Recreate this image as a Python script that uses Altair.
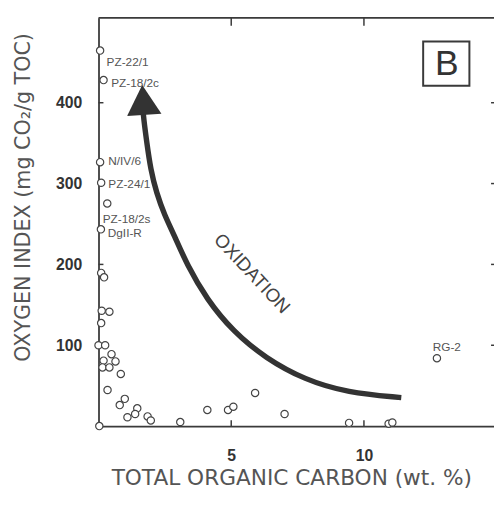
import altair as alt
import pandas as pd

# ---------------- data ----------------
toc = [0.06, 0.19, 0.06, 0.10, 0.33, 0.09, 0.10, 0.21, 0.12, 0.41,
       0.10, 0.00, 0.25, 0.49, 0.19, 0.64, 0.15, 0.41, 0.84, 0.34,
       0.99, 0.80, 1.46, 1.38, 1.09, 1.85, 1.97, 0.03, 3.08, 4.10,
       4.88, 5.08, 5.90, 7.01, 9.44, 10.93, 11.07, 12.75]
oxygen_index = [464.5, 428, 326.5, 301, 275.4, 243.4, 189.5, 184, 142.7, 141.5,
                127.4, 100, 100, 89, 81, 80, 72.6, 72.6, 64.5, 44.7,
                33.7, 26, 22, 15, 11, 12, 7, 0, 5, 20,
                20, 24, 41, 15, 4, 3, 4.5, 84]
sample = ["PZ-22/1", "PZ-18/2c", "N/IV/6", "PZ-24/1", "PZ-18/2s", "DgII-R"] + [""] * 31 + ["RG-2"]

# oxidation arrow path (data units)
arrow_toc = [1.667, 1.704, 1.815, 1.963, 2.185, 2.481, 2.852, 3.333, 4.074,
             5.074, 6.296, 7.778, 9.370, 11.407]
arrow_oi = [394.3, 379.7, 351.7, 317.6, 288.4, 261.6, 236.1, 199.6, 157.0,
            116.8, 84.0, 57.2, 41.4, 35.3]
arrow_head_toc = [1.685]
arrow_head_oi = [403.4]

x_ticks = [5, 10]
y_ticks = [100, 200, 300, 400]

# ---------------- styling ----------------
W, H = 402, 415
XD = [0, 14.9]
YD = [0, 505]
INK = "#3a3a3a"
TEXT = "#555555"

# label offsets (pixels) relative to their point: (dx, dy)
LABEL_OFFSETS = {
    "PZ-22/1": (6.6, 11.7),
    "PZ-18/2c": (7.7, 2.7),
    "N/IV/6": (8.3, -1.4),
    "PZ-24/1": (7.3, 1.6),
    "PZ-18/2s": (-4.7, 16.3),
    "DgII-R": (7.0, 4.3),
    "RG-2": (-4.3, -11.0),
}

xscale = alt.Scale(domain=XD, nice=False, zero=False)
yscale = alt.Scale(domain=YD, nice=False, zero=False)

x_axis = alt.Axis(
    values=x_ticks, format="d", grid=False, ticks=False, tickSize=0,
    domain=True, domainColor=INK, domainWidth=1.8,
    labelFont="Liberation Sans", labelFontWeight="bold", labelFontSize=16,
    labelColor="#333333", labelPadding=22,
    title="TOTAL ORGANIC CARBON (wt. %)", titleFont="DejaVu Sans",
    titleFontSize=22, titleFontWeight="normal", titleColor=TEXT,
    titleX=196, titleY=59, titleAlign="center", titleBaseline="alphabetic",
    titleAngle=0,
)
y_axis = alt.Axis(
    values=y_ticks, format="d", grid=False, ticks=False, tickSize=0,
    domain=True, domainColor=INK, domainWidth=1.8,
    labelFont="Liberation Sans", labelFontWeight="bold", labelFontSize=16,
    labelColor="#333333", labelPadding=17,
    title="OXYGEN INDEX (mg CO₂/g TOC)", titleFont="DejaVu Sans",
    titleFontSize=21, titleFontWeight="normal", titleColor=TEXT,
    titleX=-70, titleY=182, titleAlign="center", titleBaseline="alphabetic",
    titleAngle=270,
)


def X(field):
    return alt.X(field, type="quantitative", scale=xscale, axis=x_axis)


def Y(field):
    return alt.Y(field, type="quantitative", scale=yscale, axis=y_axis)


pts = pd.DataFrame({"toc": toc, "oi": oxygen_index, "name": sample})
arrow_df = pd.DataFrame({"toc": arrow_toc, "oi": arrow_oi, "i": list(range(len(arrow_toc)))})
head_df = pd.DataFrame({"toc": arrow_head_toc, "oi": arrow_head_oi})
dummy = pd.DataFrame({"k": [0]})
xt_df = pd.DataFrame({"toc": x_ticks})
yt_df = pd.DataFrame({"oi": y_ticks})

# arrow shaft
shaft = alt.Chart(arrow_df).mark_line(
    color="#333333", strokeWidth=5.5, strokeCap="butt", interpolate="basis", clip=False
).encode(x=X("toc"), y=Y("oi"), order="i:Q")

head = alt.Chart(head_df).mark_point(
    shape="triangle-up", filled=True, size=1225, angle=356, color="#333333", opacity=1
).encode(x=X("toc"), y=Y("oi"))

points = alt.Chart(pts).mark_point(
    shape="circle", filled=True, fill="white", stroke="#444444",
    strokeWidth=1.2, size=55, opacity=1, clip=False
).encode(x=X("toc"), y=Y("oi"))

label_layers = []
for nm, (dx, dy) in LABEL_OFFSETS.items():
    label_layers.append(
        alt.Chart(pts).transform_filter(alt.datum.name == nm).mark_text(
            align="left", baseline="middle", dx=dx, dy=dy,
            font="Liberation Sans", fontSize=12, color=TEXT
        ).encode(x=X("toc"), y=Y("oi"), text="name:N")
    )

# frame top line and inward ticks
top_line = alt.Chart(dummy).mark_rule(color=INK, strokeWidth=1.8).encode(
    x=alt.value(0), x2=alt.value(W), y=alt.value(0)
)
left_ticks = alt.Chart(yt_df).mark_rule(color=INK, strokeWidth=1.5).encode(
    y=Y("oi"), x=alt.value(0), x2=alt.value(5)
)
right_ticks = alt.Chart(yt_df).mark_rule(color=INK, strokeWidth=1.5).encode(
    y=Y("oi"), x=alt.value(W - 3), x2=alt.value(W)
)
bottom_ticks = alt.Chart(xt_df).mark_rule(color=INK, strokeWidth=1.5).encode(
    x=X("toc"), y=alt.value(H - 6), y2=alt.value(H)
)
top_ticks = alt.Chart(xt_df).mark_rule(color=INK, strokeWidth=1.5).encode(
    x=X("toc"), y=alt.value(0), y2=alt.value(8)
)

# panel letter box and oxidation text
box = alt.Chart(dummy).mark_rect(fillOpacity=0, stroke=INK, strokeWidth=2).encode(
    x=alt.value(330), x2=alt.value(377), y=alt.value(24), y2=alt.value(69)
)
letter = alt.Chart(dummy).mark_text(
    text="B", font="Liberation Sans", fontSize=36, color="#333333",
    align="center", baseline="alphabetic"
).encode(x=alt.value(354), y=alt.value(58))
oxid = alt.Chart(dummy).mark_text(
    text="OXIDATION", angle=47, font="Liberation Sans", fontSize=19,
    color="#444444", align="center", baseline="middle"
).encode(x=alt.value(156), y=alt.value(260))

chart = alt.layer(
    shaft, head, top_line, left_ticks, right_ticks, bottom_ticks, top_ticks,
    box, letter, oxid, points, *label_layers
).properties(
    width=W, height=H,
    padding={"left": 92, "top": 6, "right": 0, "bottom": 64},
    autosize=alt.AutoSizeParams(type="none"),
    background="white",
).configure_view(stroke=None)

chart.save("out.html", embed_options={"renderer": "svg", "actions": False})
